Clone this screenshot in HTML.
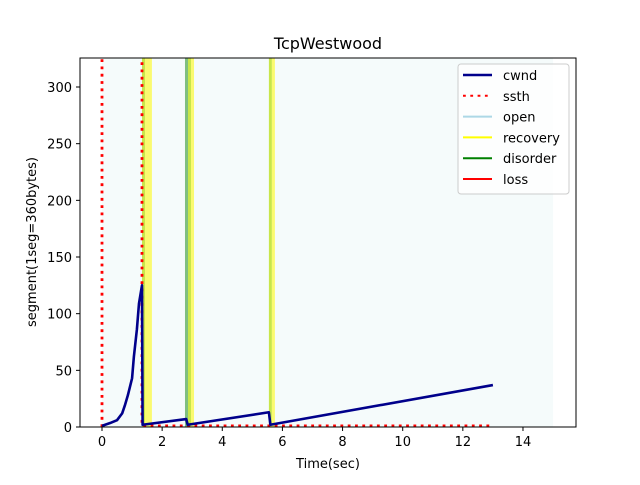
<!DOCTYPE html>
<html><head><meta charset="utf-8"><style>
body{margin:0;background:#fff}
svg text{font-family:"DejaVu Sans","Liberation Sans",sans-serif;fill:#000}
</style></head><body>
<svg width="640" height="480" viewBox="0 0 640 480">
<defs><clipPath id="pc"><rect x="80" y="58" width="496" height="369"/></clipPath></defs>
<rect x="0" y="0" width="640" height="480" fill="#fff"/>
<g id="plot" clip-path="url(#pc)"></g>
<rect x="80" y="58" width="496" height="369" fill="none" stroke="#000" stroke-width="1"/>
<g id="axes"></g>
<text x="328" y="49" font-size="16" text-anchor="middle">TcpWestwood</text>
<text x="328" y="468" font-size="13" text-anchor="middle">Time(sec)</text>
<text transform="translate(36,242) rotate(-90)" font-size="13" text-anchor="middle">segment(1seg=360bytes)</text>
<g>
<rect x="458" y="64" width="111" height="130" rx="3" fill="#fff" fill-opacity="0.8" stroke="#ccc"/>
<g id="legend"></g>
</g>
</svg>
<script>
const xTicks=[0,2,4,6,8,10,12,14];
const yTicks=[0,50,100,150,200,250,300];
const cwndT=[0,0.27,0.5,0.67,0.76,0.86,1.0,1.06,1.16,1.23,1.33,1.35,2.8,2.85,5.55,5.6,13.0];
const cwndV=[1,3.5,6,12,19,28,43,62,86,109,125,2,7,2,13,2,37];
const ssthT=[0,0,1.33,1.33,13.0];
const ssthV=[0,1000,1000,1,1];
const openSpan=[0,15];
const stateStart=[1.33,1.43,2.76,2.86,2.96,5.55,5.65];
const stateEnd=[1.43,1.66,2.86,2.96,3.06,5.65,5.75];
const stateKind=['yg','recovery','disorder','yg','recovery','yg','recovery'];
const X=t=>102+t*30.07, Y=v=>427-v*1.1333;
const NS='http://www.w3.org/2000/svg';
function mk(tag,attrs,parent){const e=document.createElementNS(NS,tag);for(const k in attrs)e.setAttribute(k,attrs[k]);parent.appendChild(e);return e;}
const plot=document.getElementById('plot'),axes=document.getElementById('axes'),leg=document.getElementById('legend');
let e=mk('rect',{x:X(openSpan[0]),y:58,width:X(openSpan[1])-X(openSpan[0]),height:369,fill:'#f5fbfb'},plot);


const colors={yg:'#c8e64a',recovery:'#fafa70',disorder:'#7fbf7f'};
stateStart.forEach((s,i)=>{
 const r=mk('rect',{x:X(s),y:58,width:X(stateEnd[i])-X(s),height:369,fill:colors[stateKind[i]]},plot);
 
 
});
let p=mk('polyline',{points:ssthT.map((t,i)=>X(t)+','+Y(ssthV[i])).join(' '),fill:'none',stroke:'#f00','stroke-width':2.8,'stroke-dasharray':'2.8,4.5'},plot);


p=mk('polyline',{points:cwndT.map((t,i)=>X(t)+','+Y(cwndV[i])).join(' '),fill:'none',stroke:'#00008b','stroke-width':2.6,'stroke-linejoin':'round'},plot);


xTicks.forEach(t=>{
 mk('line',{x1:X(t),x2:X(t),y1:427,y2:431,stroke:'#000'},axes);
 const tx=mk('text',{x:X(t),y:446,'font-size':13,'text-anchor':'middle'},axes);tx.textContent=t;
 
 
});
yTicks.forEach(v=>{
 mk('line',{x1:76,x2:80,y1:Y(v),y2:Y(v),stroke:'#000'},axes);
 const tx=mk('text',{x:72,y:Y(v)+5,'font-size':13,'text-anchor':'end'},axes);tx.textContent=v;
 
 
});
const legNames=['cwnd','ssth','open','recovery','disorder','loss'];
const legColors=['#00008b','#f00','#add8e6','#ffff00','#008000','#f00'];
legNames.forEach((n,i)=>{
 const y=75+i*20.8;
 const g=mk('g',{},leg);
 
 
 const a={x1:463,x2:492,y1:y,y2:y,stroke:legColors[i],'stroke-width':i==0?2.6:2};
 if(n==='ssth')a['stroke-dasharray']='2.8,4.5';
 mk('line',a,g);
 const t=mk('text',{x:503,y:y+5,'font-size':13},g);t.textContent=n;
});
</script>
</body></html>
